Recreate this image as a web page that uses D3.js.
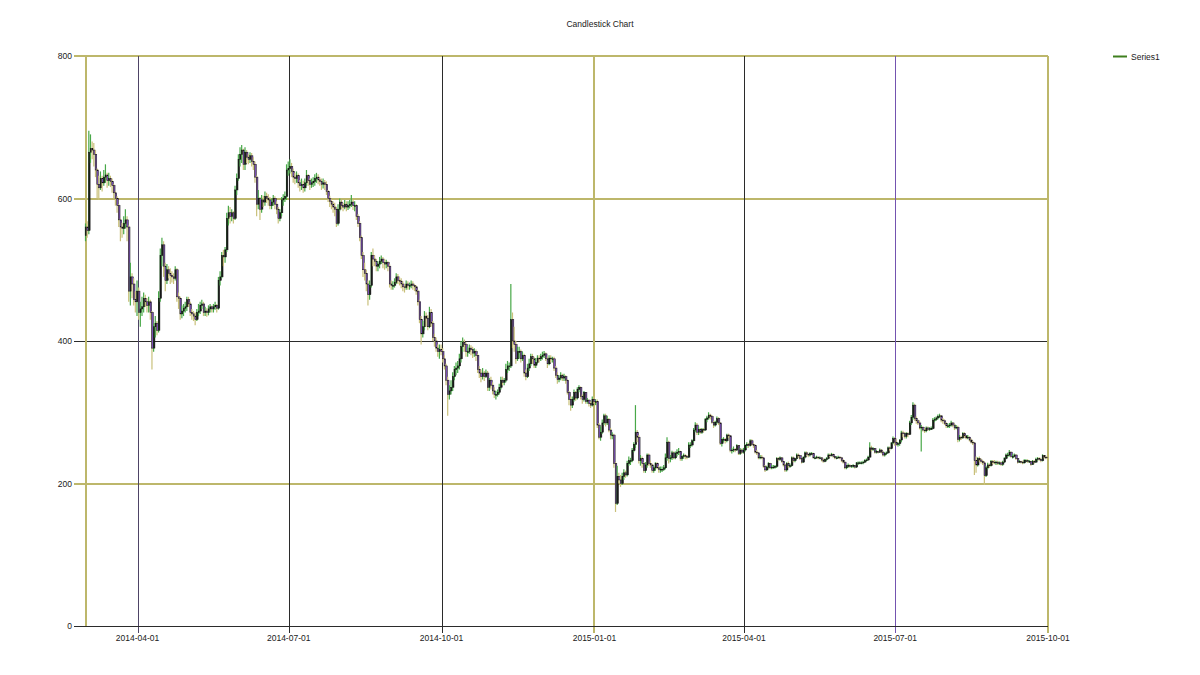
<!DOCTYPE html>
<html>
<head>
<meta charset="utf-8">
<title>Candlestick Chart</title>
<script src="https://cdn.jsdelivr.net/npm/d3@7"></script>
<style>
  body { margin: 0; background: #fff; }
  svg text { font-family: "Liberation Sans", Arial, sans-serif; font-size: 8.5px; fill: #1a1a1a; }
</style>
</head>
<body>
<svg id="chart" width="1200" height="675"></svg>
<script>
// daily candles, one line per month, first day 2014-03-01
const startDay = "2014-03-01";
const xDomain = ["2014-03-01", "2015-10-01"];

const openValues = [
  548,560,555,665,670,668,662,640,620,615,628,622,630,633,625,628,624,618,608,600,590,570,560,558,565,570,560,470,490,480,458,
  455,470,440,445,448,460,455,450,455,440,390,420,425,415,460,520,535,505,485,500,495,492,490,488,500,462,460,438,442,446,
  448,458,452,440,438,435,430,440,442,450,452,440,442,440,445,448,445,448,450,446,485,490,520,518,528,572,580,575,580,572,612,
  628,655,662,668,648,665,658,655,660,652,648,630,592,600,585,598,595,603,600,598,590,595,600,592,585,572,580,598,600,603,
  640,642,645,638,630,628,632,622,618,620,615,622,632,625,620,622,624,628,630,626,624,620,622,620,610,600,596,592,588,585,565,
  585,595,590,588,592,588,590,592,595,590,590,575,565,545,520,500,495,480,465,478,520,515,512,505,508,512,515,510,508,510,505,
  480,478,478,482,490,485,484,480,476,475,480,478,478,480,478,476,470,455,430,410,420,435,432,420,440,425,405,400,390,385,
  388,385,375,365,345,325,330,335,350,360,362,365,375,392,398,395,385,385,390,388,383,385,380,360,355,350,355,350,355,335,345,
  338,330,325,325,328,335,345,342,345,360,365,365,430,400,395,375,385,385,375,380,355,350,362,368,378,375,366,370,376,375,
  378,380,382,375,368,376,375,375,362,352,346,348,352,348,350,345,328,318,310,318,328,320,332,335,322,318,328,315,317,312,310,
  318,315,315,282,265,272,285,295,285,290,275,268,268,228,172,210,205,200,210,215,212,228,232,232,246,255,272,265,232,235,228,
  218,226,240,228,226,218,222,228,222,220,220,220,222,236,258,235,236,243,236,242,244,245,235,238,239,238,237,254,
  254,260,275,282,272,276,272,276,275,290,292,296,294,286,282,286,291,285,256,262,262,260,268,267,246,247,248,247,253,242,247,
  244,247,253,255,253,260,255,253,244,243,236,237,236,224,219,223,228,222,223,223,224,235,234,236,231,226,219,228,225,225,
  236,232,235,240,239,235,230,237,243,241,240,242,242,236,236,237,236,236,233,231,234,235,240,239,241,238,236,236,237,236,232,
  230,222,225,225,224,225,225,223,229,229,229,229,230,232,233,237,250,248,249,244,245,244,247,244,240,242,243,250,249,257,
  263,258,255,256,261,271,270,266,270,269,285,293,310,291,288,285,278,279,275,274,278,276,277,277,289,290,292,294,295,289,288,
  284,281,281,282,285,282,278,279,262,265,264,270,267,264,265,261,258,257,232,226,235,233,231,229,211,222,226,225,231,230,229,
  230,228,229,227,230,235,240,240,244,238,238,240,235,230,231,230,229,232,232,231,231,227,231,230,234,235,234,232,239,237
];

const highValues = [
  565,568,695,690,680,678,668,642,632,638,632,640,648,636,636,632,628,620,610,603,592,572,566,575,585,575,562,510,495,488,470,
  485,475,455,462,468,465,460,462,458,442,425,435,428,470,530,545,540,510,508,505,502,498,495,505,502,468,462,450,452,455,
  462,462,455,445,442,440,445,452,455,458,455,448,446,450,452,450,452,455,452,490,498,525,528,532,580,590,588,585,582,618,635,
  662,672,675,670,672,668,662,665,664,658,652,632,612,602,605,604,610,608,606,602,600,605,603,596,588,585,602,606,610,648,
  652,655,650,642,636,638,635,626,628,625,628,640,634,628,628,630,634,636,634,630,628,628,626,624,612,604,600,596,594,588,592,
  600,598,594,598,596,596,598,605,598,596,592,578,568,548,525,510,500,485,485,525,530,520,515,512,518,520,518,515,514,512,508,
  485,484,488,495,494,490,488,484,480,485,484,482,485,484,480,478,472,458,435,428,442,440,436,448,445,428,410,405,395,395,
  395,390,380,368,350,338,345,356,365,370,372,382,400,405,402,398,392,395,394,392,390,388,382,365,360,362,358,360,358,348,350,
  342,335,330,332,340,350,350,348,368,372,370,480,440,420,400,392,392,388,385,382,360,368,375,382,382,378,376,380,380,382,
  385,386,384,378,380,380,378,378,365,356,352,356,354,354,352,346,330,322,322,332,330,335,338,336,325,330,328,320,318,315,322,
  322,318,318,285,280,290,298,298,295,292,278,272,270,230,225,215,212,215,220,218,232,238,236,250,258,310,275,268,240,238,230,
  230,242,242,232,228,225,230,230,225,224,224,226,242,265,260,240,246,245,245,248,250,246,240,242,241,240,258,258,
  262,278,286,285,280,278,278,278,292,295,300,298,296,288,288,294,293,286,264,265,264,270,270,268,250,252,250,255,254,250,249,
  250,255,258,257,262,262,257,255,247,244,240,240,237,226,225,230,229,226,226,226,237,237,238,237,232,228,230,231,228,238,
  238,236,242,242,240,236,238,245,245,242,244,244,243,238,239,238,238,237,235,235,237,242,242,243,242,239,238,239,238,237,234,
  231,226,228,227,226,227,226,230,231,231,231,232,234,235,239,258,253,251,250,247,246,249,248,246,244,245,252,252,258,266,
  265,262,258,262,274,274,272,272,272,288,296,314,312,294,290,288,282,280,278,280,280,279,280,292,293,294,297,298,296,292,290,
  286,284,285,288,286,284,282,281,268,267,272,272,268,268,266,263,260,258,238,237,238,235,233,231,225,229,228,233,233,233,232,
  232,231,231,232,237,242,243,247,245,241,242,241,236,233,232,232,234,234,234,233,232,233,233,236,237,237,236,241,240,239
];

const lowValues = [
  540,545,550,650,655,645,630,600,598,612,610,618,622,615,618,616,608,600,590,580,560,540,545,550,558,540,455,450,460,450,440,
  435,430,420,435,440,448,440,440,430,360,385,405,408,412,455,505,490,470,480,488,480,482,480,485,455,445,430,432,435,440,
  442,448,435,430,428,422,428,435,438,445,435,435,434,436,440,440,440,444,440,444,478,488,505,510,525,562,565,568,565,570,605,
  625,645,650,640,640,650,648,650,645,640,622,575,585,570,580,588,590,594,590,585,585,590,585,578,565,568,575,590,595,598,
  632,635,630,622,620,622,615,610,612,608,610,618,618,612,615,616,618,622,620,618,612,614,612,605,595,588,585,580,575,560,562,
  582,585,582,585,582,584,586,588,584,582,570,560,540,515,490,485,470,450,458,475,505,505,498,498,502,508,502,500,502,498,475,
  472,472,475,480,480,478,474,470,468,472,472,472,474,472,470,465,450,425,395,405,415,420,415,418,420,400,392,385,378,375,
  380,370,360,338,295,318,325,330,345,352,355,360,370,385,385,378,378,382,380,376,378,372,355,348,342,346,344,348,330,330,332,
  325,320,318,322,325,332,338,338,342,355,358,362,390,385,368,372,375,370,372,350,345,348,358,365,368,362,362,368,370,372,
  374,376,372,362,366,370,370,358,348,340,342,345,344,344,340,325,310,302,306,315,316,318,328,318,312,315,312,312,308,306,308,
  312,310,278,262,260,270,282,280,282,272,262,262,222,160,170,200,195,198,205,208,210,225,226,230,244,250,258,228,225,222,215,
  215,222,225,222,215,215,218,220,215,215,216,218,220,232,228,230,233,234,234,238,240,232,232,235,234,234,236,250,
  252,258,272,268,268,270,270,272,274,286,290,290,284,278,280,284,282,254,252,258,256,258,264,244,242,244,244,246,240,240,242,
  242,245,250,250,252,253,250,242,240,234,234,234,222,216,218,221,220,220,221,221,222,232,232,229,224,216,217,222,222,224,
  230,230,234,236,233,228,229,235,239,237,238,240,235,234,235,234,234,231,229,230,232,234,237,238,236,234,234,235,234,230,228,
  220,220,222,222,222,222,221,222,226,227,227,227,229,231,232,236,245,246,242,242,242,243,242,238,238,240,242,246,248,255,
  253,253,252,253,258,265,263,263,265,268,282,290,288,284,282,276,245,273,271,272,274,274,275,276,286,288,290,292,286,284,282,
  278,278,278,280,279,275,276,258,259,261,263,264,262,262,259,256,254,212,215,224,230,228,226,198,209,220,222,224,227,227,226,
  226,226,225,225,229,234,237,238,236,235,237,233,228,229,228,227,228,230,229,229,225,226,228,229,232,232,230,231,235,234
];

const closeValues = [
  560,555,665,670,668,662,640,620,615,628,622,630,633,625,628,624,618,608,600,590,570,560,558,565,570,560,470,490,480,458,455,
  470,440,445,448,460,455,450,455,440,390,420,425,415,460,520,535,505,485,500,495,492,490,488,500,462,460,438,442,446,448,
  458,452,440,438,435,430,440,442,450,452,440,442,440,445,448,445,448,450,446,485,490,520,518,528,572,580,575,580,572,612,628,
  655,662,668,648,665,658,655,660,652,648,630,592,600,585,598,595,603,600,598,590,595,600,592,585,572,580,598,600,603,640,
  642,645,638,630,628,632,622,618,620,615,622,632,625,620,622,624,628,630,626,624,620,622,620,610,600,596,592,588,585,565,585,
  595,590,588,592,588,590,592,595,590,590,575,565,545,520,500,495,480,465,478,520,515,512,505,508,512,515,510,508,510,505,480,
  478,478,482,490,485,484,480,476,475,480,478,478,480,478,476,470,455,430,410,420,435,432,420,440,425,405,400,390,385,388,
  385,375,365,345,325,330,335,350,360,362,365,375,392,398,395,385,385,390,388,383,385,380,360,355,350,355,350,355,335,345,338,
  330,325,325,328,335,345,342,345,360,365,365,430,400,395,375,385,385,375,380,355,350,362,368,378,375,366,370,376,375,378,
  380,382,375,368,376,375,375,362,352,346,348,352,348,350,345,328,318,310,318,328,320,332,335,322,318,328,315,317,312,310,318,
  315,315,282,265,272,285,295,285,290,275,268,268,228,172,210,205,200,210,215,212,228,232,232,246,255,272,265,232,235,228,218,
  226,240,228,226,218,222,228,222,220,220,220,222,236,258,235,236,243,236,242,244,245,235,238,239,238,237,254,254,
  260,275,282,272,276,272,276,275,290,292,296,294,286,282,286,291,285,256,262,262,260,268,267,246,247,248,247,253,242,247,244,
  247,253,255,253,260,255,253,244,243,236,237,236,224,219,223,228,222,223,223,224,235,234,236,231,226,219,228,225,225,236,
  232,235,240,239,235,230,237,243,241,240,242,242,236,236,237,236,236,233,231,234,235,240,239,241,238,236,236,237,236,232,230,
  222,225,225,224,225,225,223,229,229,229,229,230,232,233,237,250,248,249,244,245,244,247,244,240,242,243,250,249,257,263,
  258,255,256,261,271,270,266,270,269,285,293,310,291,288,285,278,279,275,274,278,276,277,277,289,290,292,294,295,289,288,284,
  281,281,282,285,282,278,279,262,265,264,270,267,264,265,261,258,257,232,226,235,233,231,229,211,222,226,225,231,230,229,230,
  228,229,227,230,235,240,240,244,238,238,240,235,230,231,230,229,232,232,231,231,227,231,230,234,235,234,232,239,237,236
];

const yTicks = [0, 200, 400, 600, 800];
const xTickLabels = ["2014-04-01", "2014-07-01", "2014-10-01", "2015-01-01", "2015-04-01", "2015-07-01", "2015-10-01"];
const seriesName = "Series1";
const chartTitle = "Candlestick Chart";

(() => {
  const khaki = "#bdb76b";
  const purple = "#7454b0";
  const dusk = "#4e4466";
  const dark = "#2b2b2b";

  // gridline colours as the original chart shows them
  const xGridColor = {
    "2014-04-01": dusk, "2014-07-01": dark, "2014-10-01": dark,
    "2015-01-01": khaki, "2015-04-01": dark, "2015-07-01": purple, "2015-10-01": khaki
  };
  const yGridColor = { 200: khaki, 400: dark, 600: khaki, 800: khaki };

  const left = 86, right = 1048, top = 56, bottom = 626;
  const parseDay = d3.timeParse("%Y-%m-%d");
  const first = parseDay(startDay);

  const candles = closeValues.map((c, i) => ({
    date: d3.timeDay.offset(first, i),
    open: openValues[i],
    high: highValues[i],
    low: lowValues[i],
    close: c
  }));

  const svg = d3.select("#chart");

  const x = d3.scaleTime()
    .domain(xDomain.map(parseDay))
    .range([left, right]);

  const y = d3.scaleLinear()
    .domain([0, 800])
    .range([bottom, top]);

  const snap = v => Math.round(v) + 0.5;

  // title
  svg.append("text")
    .attr("x", 600)
    .attr("y", 27)
    .attr("text-anchor", "middle")
    .text(chartTitle);

  // horizontal grid
  svg.append("g").selectAll("line")
    .data(yTicks.filter(t => t > 0))
    .enter()
    .append("line")
    .attr("x1", 74)
    .attr("x2", right)
    .attr("y1", t => yGridColor[t] === dark ? snap(y(t)) : Math.round(y(t)))
    .attr("y2", t => yGridColor[t] === dark ? snap(y(t)) : Math.round(y(t)))
    .attr("stroke", t => yGridColor[t])
    .attr("stroke-width", t => yGridColor[t] === khaki ? 2 : 1)
    .attr("shape-rendering", "crispEdges");

  // vertical grid + ticks
  svg.append("g").selectAll("line")
    .data(xTickLabels)
    .enter()
    .append("line")
    .attr("x1", d => xGridColor[d] === khaki ? Math.round(x(parseDay(d))) : snap(x(parseDay(d))))
    .attr("x2", d => xGridColor[d] === khaki ? Math.round(x(parseDay(d))) : snap(x(parseDay(d))))
    .attr("y1", top)
    .attr("y2", bottom + 7)
    .attr("stroke", d => xGridColor[d])
    .attr("stroke-width", d => xGridColor[d] === khaki ? 2 : 1)
    .attr("shape-rendering", "crispEdges");

  // left axis line
  svg.append("line")
    .attr("x1", left).attr("x2", left)
    .attr("y1", top - 1).attr("y2", bottom)
    .attr("stroke", khaki)
    .attr("stroke-width", 2)
    .attr("shape-rendering", "crispEdges");

  // bottom axis line
  svg.append("line")
    .attr("x1", 74).attr("x2", right)
    .attr("y1", snap(y(0))).attr("y2", snap(y(0)))
    .attr("stroke", dark)
    .attr("stroke-width", 1)
    .attr("shape-rendering", "crispEdges");

  // y labels
  svg.append("g").selectAll("text")
    .data(yTicks)
    .enter()
    .append("text")
    .attr("x", 72)
    .attr("y", t => y(t) + 3)
    .attr("text-anchor", "end")
    .text(t => t);

  // x labels
  svg.append("g").selectAll("text")
    .data(xTickLabels)
    .enter()
    .append("text")
    .attr("x", d => x(parseDay(d)))
    .attr("y", bottom + 15)
    .attr("text-anchor", "middle")
    .text(d => d);

  // candles
  const bodyWidth = 1.6;
  const groups = svg.append("g").selectAll("g")
    .data(candles)
    .enter()
    .append("g");

  groups.append("line")
    .attr("x1", d => x(d.date) - 0.5)
    .attr("x2", d => x(d.date) - 0.5)
    .attr("y1", d => y(d.high))
    .attr("y2", d => y(d.low))
    .attr("stroke", (d, i) => d.close >= d.open ? "#48a848" : "#c9c07a")
    .attr("stroke-width", 1.2);

  groups.append("rect")
    .attr("x", d => x(d.date) - bodyWidth / 2)
    .attr("y", d => y(Math.max(d.open, d.close)))
    .attr("width", bodyWidth)
    .attr("height", d => Math.max(0.8, Math.abs(y(d.open) - y(d.close))))
    .attr("fill", d => d.close >= d.open ? "#1c1c1c" : "#7a4fb4")
    .attr("stroke", "#111")
    .attr("stroke-width", 0.5);

  // legend
  svg.append("line")
    .attr("x1", 1113).attr("x2", 1127)
    .attr("y1", 56.5).attr("y2", 56.5)
    .attr("stroke", "#3f7f1f")
    .attr("stroke-width", 2);

  svg.append("text")
    .attr("x", 1131)
    .attr("y", 59.5)
    .text(seriesName);
})();
</script>
</body>
</html>
